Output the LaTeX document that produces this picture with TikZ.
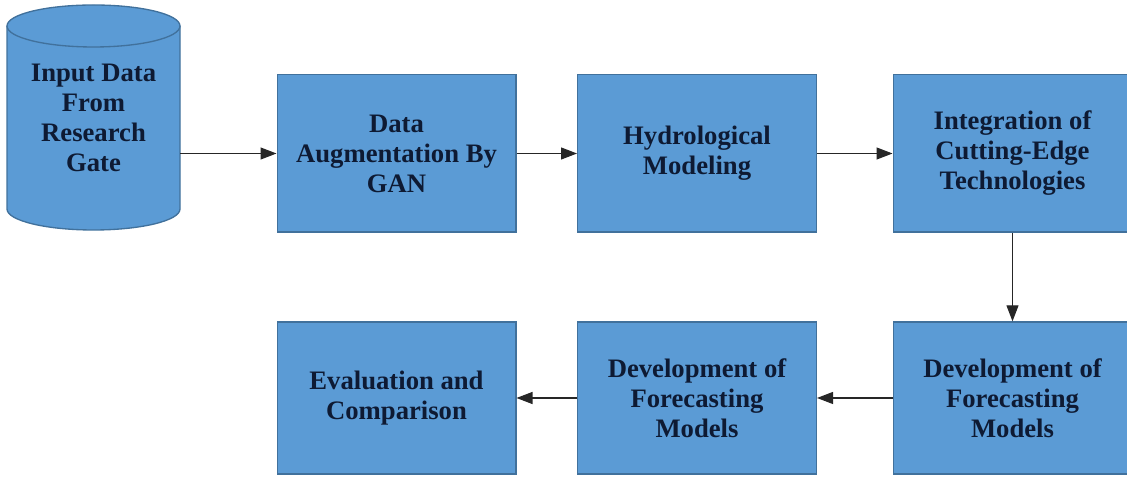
\documentclass[tikz,border=0pt]{standalone}
\usepackage{fontspec}
\newfontfamily\stagefont{Liberation Serif Bold}
\usetikzlibrary{arrows.meta}
\definecolor{boxblue}{HTML}{5B9BD5}
\definecolor{edgeblue}{HTML}{41719C}
\definecolor{inkblue}{HTML}{0E1A33}

\begin{document}
\begin{tikzpicture}[x=0.75pt, y=0.75pt,
        font=\stagefont\fontsize{20}{22.5}\selectfont,
        stage/.style={rectangle, draw=edgeblue, fill=boxblue, line width=1pt,
            minimum width=179pt, align=center, text=inkblue},
        upper/.style={stage, minimum height=118pt},
        lower/.style={stage, minimum height=114pt},
        flow/.style={-{Triangle[length=12pt, width=9pt]}, line width=0.8pt, draw=black!85}]
    \useasboundingbox (0,0) rectangle (1127,477);
    % data store drum
    \draw[draw=edgeblue, fill=boxblue, line width=1pt] (7,451) -- (7,268) arc (180:360:86.5 and 21) -- (180,451);
    \draw[draw=edgeblue, fill=boxblue, line width=1pt] (93.5,451) ellipse (86.5 and 21);
    \node[inner sep=0pt, minimum width=129.75pt, align=center, text=inkblue] (input) at (93.5,359)
        {Input Data\\From\\Research\\Gate};
    % top row
    \node[upper] (gan) at (396.5,323.5) {Data\\Augmentation By\\GAN};
    \node[upper] (hydro) at (697,323.5) {Hydrological\\Modeling};
    \node[upper] (tech) at (1012.5,323.5) {Integration of\\Cutting-Edge\\Technologies};
    % bottom row
    \node[lower] (fore1) at (1012.5,79) {Development of\\Forecasting\\Models};
    \node[lower] (fore2) at (697,79) {Development of\\Forecasting\\Models};
    \node[lower] (eval) at (396.5,79) {Evaluation and\\Comparison};
    % connectors
    \draw[flow] (input.east |- gan.west) -- (gan.west);
    \draw[flow] (gan) -- (hydro);
    \draw[flow] (hydro) -- (tech);
    \draw[flow] (tech) -- (fore1);
    \draw[flow] (fore1) -- (fore2);
    \draw[flow] (fore2) -- (eval);
\end{tikzpicture}
\end{document}
